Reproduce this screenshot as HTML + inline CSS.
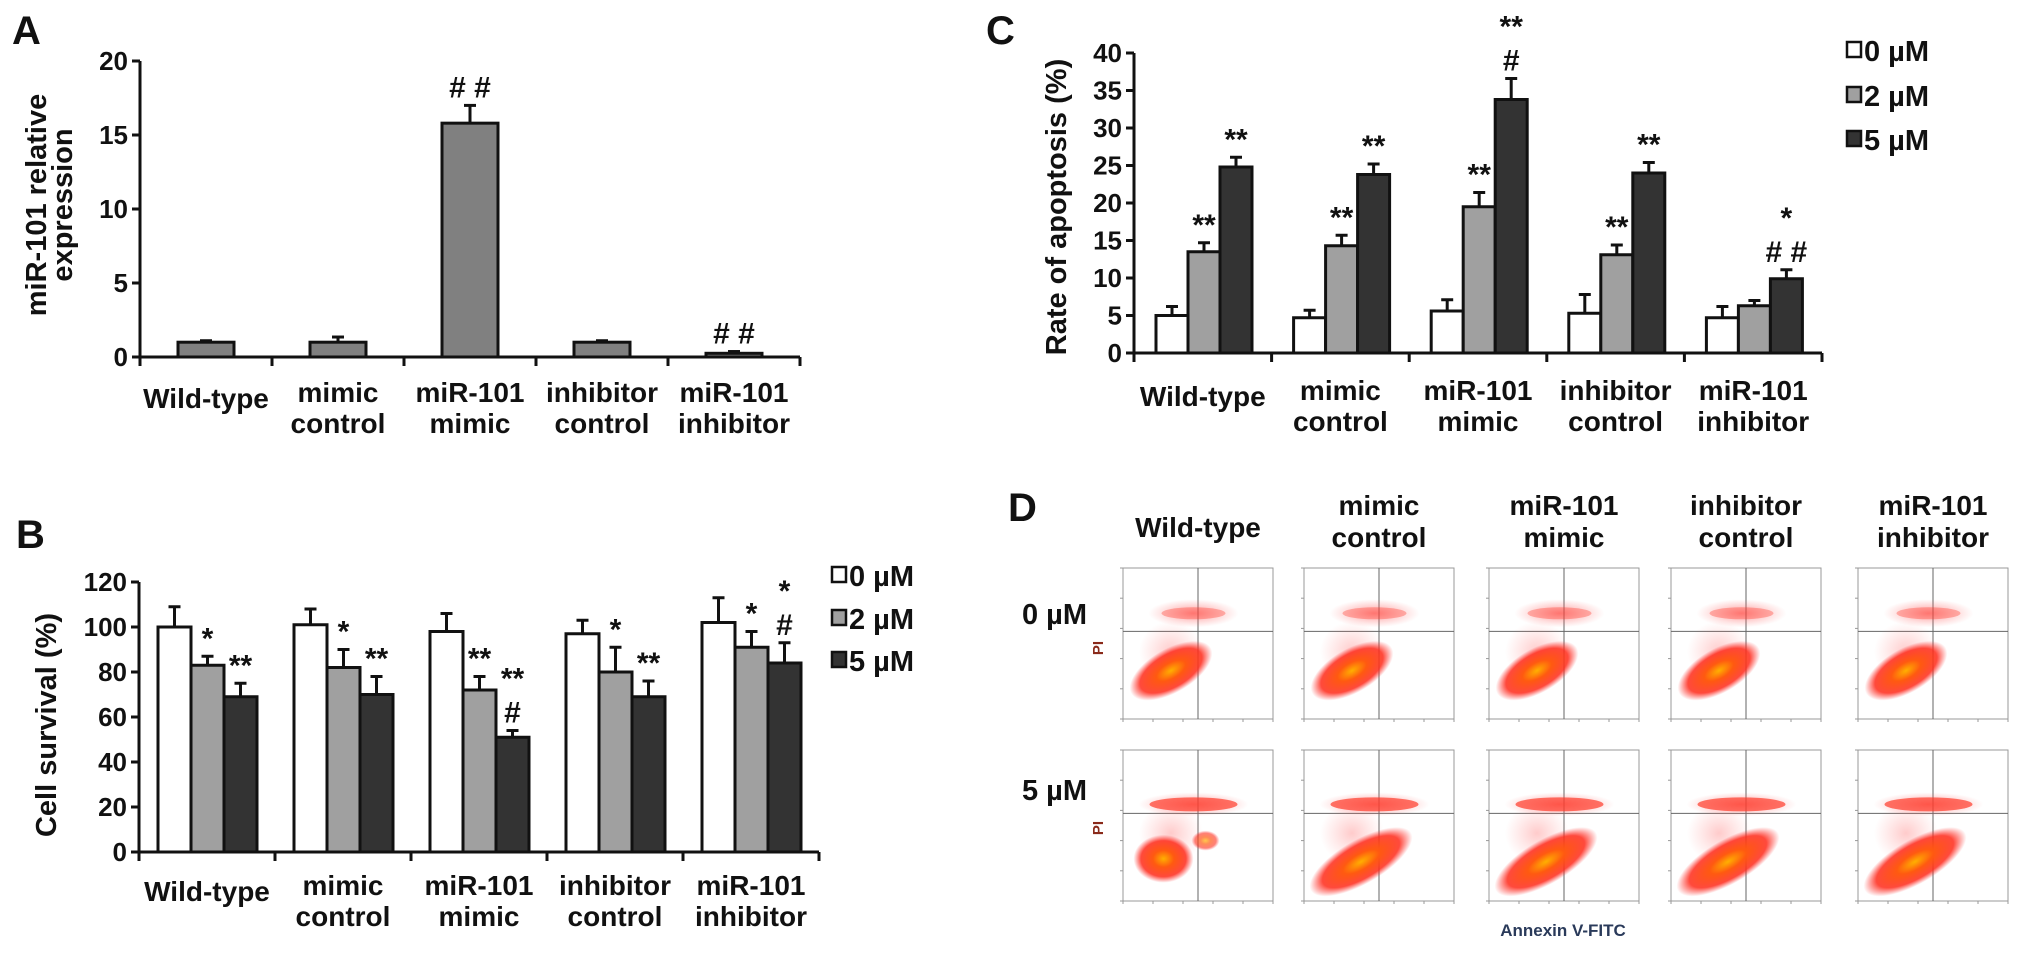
<!DOCTYPE html>
<html><head><meta charset="utf-8">
<style>
html,body{margin:0;padding:0;background:#fff;}
svg{display:block;}
text{font-family:"Liberation Sans Narrow","Liberation Sans",sans-serif;font-weight:bold;fill:#111;}
.wide{font-family:"Liberation Sans",sans-serif;}
</style></head>
<body>
<svg id="fig" width="2031" height="956" viewBox="0 0 2031 956" xmlns="http://www.w3.org/2000/svg">
<defs>
<radialGradient id="cl" cx="50%" cy="50%" r="50%">
<stop offset="0" stop-color="#ffb000"/><stop offset="0.35" stop-color="#ff5a10"/><stop offset="0.75" stop-color="#ff2a1a" stop-opacity="0.85"/><stop offset="1" stop-color="#ff3030" stop-opacity="0"/>
</radialGradient>
<radialGradient id="hz" cx="50%" cy="50%" r="50%">
<stop offset="0" stop-color="#ff4040" stop-opacity="0.55"/><stop offset="1" stop-color="#ff6060" stop-opacity="0"/>
</radialGradient>
</defs>
<g id="panelA">
<text class="wide" x="12" y="44" font-size="40">A</text>
<text class="wide" transform="translate(46,205) rotate(-90)" text-anchor="middle" font-size="29">miR-101 relative</text>
<text class="wide" transform="translate(72,205) rotate(-90)" text-anchor="middle" font-size="29">expression</text>
</g>
<g id="panelB">
<text class="wide" x="16" y="548" font-size="40">B</text>
<text class="wide" transform="translate(56,725) rotate(-90)" text-anchor="middle" font-size="29">Cell survival (%)</text>
</g>
<g id="panelC">
<text class="wide" x="986" y="44" font-size="40">C</text>
<text class="wide" transform="translate(1066,207) rotate(-90)" text-anchor="middle" font-size="29">Rate of apoptosis (%)</text>
</g>
<g id="panelD">
<text class="wide" x="1008" y="521" font-size="40">D</text>
<text x="1022" y="624" font-size="29">0 µM</text>
<text x="1022" y="800" font-size="29">5 µM</text>
<text transform="translate(1103,648) rotate(-90)" text-anchor="middle" font-size="15" style="fill:#8a2a1a">PI</text>
<text transform="translate(1103,828) rotate(-90)" text-anchor="middle" font-size="15" style="fill:#8a2a1a">PI</text>
<text x="1563" y="936" text-anchor="middle" font-size="17" style="fill:#2a3a5a">Annexin V-FITC</text>
</g>
</svg>
<script>
const NS="http://www.w3.org/2000/svg";
const svg=document.getElementById('fig');
// Panel A data
const catsA1=["Wild-type","mimic","miR-101","inhibitor","miR-101"];
const catsA2=["","control","mimic","control","inhibitor"];
const valsA=[1.0,1.0,15.8,1.0,0.25];
const errsA=[0.1,0.35,1.2,0.1,0.12];
const annA=["","","# #","","# #"];
const ticksA=[0,5,10,15,20];
// Panel B data
const valsB0=[100,101,98,97,102];
const valsB2=[83,82,72,80,91];
const valsB5=[69,70,51,69,84];
const errsB0=[9,7,8,6,11];
const errsB2=[4,8,6,11,7];
const errsB5=[6,8,3,7,9];
const annB2=["*","*","**","*","*"];
const annB5=["**","**","**\n#","**","*\n#"];
const ticksB=[0,20,40,60,80,100,120];
// Panel C data
const valsC0=[5.0,4.7,5.6,5.3,4.7];
const valsC2=[13.5,14.3,19.5,13.1,6.3];
const valsC5=[24.8,23.8,33.8,24.0,9.9];
const errsC0=[1.2,1.0,1.5,2.5,1.5];
const errsC2=[1.2,1.4,1.9,1.3,0.7];
const errsC5=[1.3,1.4,2.8,1.4,1.2];
const annC2=["**","**","**","**",""];
const annC5=["**","**","**\n#","**","*\n# #"];
const ticksC=[0,5,10,15,20,25,30,35,40];
const legendLabels=["0 µM","2 µM","5 µM"];
const headD1=["Wild-type","mimic","miR-101","inhibitor","miR-101"];
const headD2=["","control","mimic","control","inhibitor"];

function el(tag,attrs,parent){const e=document.createElementNS(NS,tag);for(const k in attrs)e.setAttribute(k,attrs[k]);(parent||svg).appendChild(e);return e;}
function txt(str,attrs,parent){const e=el('text',attrs,parent);e.textContent=str;return e;}

function axes(cfg,id){
  const g=el('g',{});
  
  
  const yTop=cfg.y(cfg.ticks[cfg.ticks.length-1]);
  el('line',{x1:cfg.x0,y1:yTop,x2:cfg.x0,y2:cfg.y(0),stroke:'#111','stroke-width':3},g);
  el('line',{x1:cfg.x0,y1:cfg.y(0),x2:cfg.x0+cfg.gw*cfg.n,y2:cfg.y(0),stroke:'#111','stroke-width':3},g);
  cfg.ticks.forEach(t=>{
    el('line',{x1:cfg.x0-8,y1:cfg.y(t),x2:cfg.x0,y2:cfg.y(t),stroke:'#111','stroke-width':3},g);
    const tl=txt(String(t),{x:cfg.x0-12,y:cfg.y(t)+9,'text-anchor':'end','font-size':26},g);
    
    
  });
  for(let i=0;i<=cfg.n;i++){
    el('line',{x1:cfg.x0+i*cfg.gw,y1:cfg.y(0),x2:cfg.x0+i*cfg.gw,y2:cfg.y(0)+9,stroke:'#111','stroke-width':3},g);
  }
  for(let i=0;i<cfg.n;i++){
    const cx=cfg.x0+(i+0.5)*cfg.gw;
    const a=txt(cfg.c1[i],{x:cx,y:cfg.c2[i]?cfg.labY:cfg.labY+6,'text-anchor':'middle','font-size':28},g);
    
    
    if(cfg.c2[i]){const b=txt(cfg.c2[i],{x:cx,y:cfg.labY+31,'text-anchor':'middle','font-size':28},g);
      
      }
  }
}
function drawSeries(cfg,vals,errs,ann,fill,off,bw,name){
  const g=el('g',{});
  
  
  vals.forEach((v,i)=>{
    const x=cfg.x0+i*cfg.gw+off, top=cfg.y(v), cx=x+bw/2, et=cfg.y(v+errs[i]);
    el('line',{x1:cx,y1:top,x2:cx,y2:et,stroke:'#111','stroke-width':3},g);
    el('line',{x1:cx-6,y1:et,x2:cx+6,y2:et,stroke:'#111','stroke-width':3},g);
    const r=el('rect',{x:x,y:top,width:bw,height:cfg.y(0)-top,fill:fill,stroke:'#111','stroke-width':3},g);
    
    
    if(ann[i]){
      const lines=ann[i].split('\n').reverse();
      lines.forEach((s,k)=>{
        const t=txt(s,{x:cx,y:et-8-k*34,'text-anchor':'middle','font-size':30},g);
        
        
      });
    }
  });
}
function legend(x,ys){
  const fills=['#fff','#a0a0a0','#333'];
  legendLabels.forEach((l,i)=>{
    const g=el('g',{});
    
    
    el('rect',{x:x,y:ys[i]-8,width:14,height:15,fill:fills[i],stroke:'#111','stroke-width':2.5},g);
    txt(l,{x:x+17,y:ys[i]+11,'font-size':29},g);
  });
}
// Panel A
const cA={x0:140,gw:132,n:5,ticks:ticksA,y:v=>357-v*14.8,c1:catsA1,c2:catsA2,labY:402};
axes(cA,'panel-a');
drawSeries(cA,valsA,errsA,annA,'#808080',38,56,'expression');
// Panel B
const cB={x0:139,gw:136,n:5,ticks:ticksB,y:v=>852-v*2.25,c1:catsA1,c2:catsA2,labY:895};
axes(cB,'panel-b');
drawSeries(cB,valsB0,errsB0,["","","","",""],'#fff',19,33,'survival-0um');
drawSeries(cB,valsB2,errsB2,annB2,'#a0a0a0',52,33,'survival-2um');
drawSeries(cB,valsB5,errsB5,annB5,'#333',85,33,'survival-5um');
legend(832,[575,618,660]);
// Panel C
const cC={x0:1134,gw:137.6,n:5,ticks:ticksC,y:v=>353-v*7.5,c1:catsA1,c2:catsA2,labY:400};
axes(cC,'panel-c');
drawSeries(cC,valsC0,errsC0,["","","","",""],'#fff',22,32,'apoptosis-0um');
drawSeries(cC,valsC2,errsC2,annC2,'#a0a0a0',54,32,'apoptosis-2um');
drawSeries(cC,valsC5,errsC5,annC5,'#333',86,32,'apoptosis-5um');
legend(1847,[50,95,139]);
// Panel D headers
const dLefts=[1123,1304,1489,1671,1858];
headD1.forEach((h,i)=>{
  const cx=dLefts[i]+75;
  const a=txt(h,{x:cx,y:headD2[i]?515:537,'text-anchor':'middle','font-size':28});
  
  
  if(headD2[i]){const b=txt(headD2[i],{x:cx,y:547,'text-anchor':'middle','font-size':28});
    
    }
});
// flow cytometry plots (decorative clusters)
const rowTops=[568,750];
rowTops.forEach((top,r)=>{
  dLefts.forEach((left,c)=>{
    const g=el('g',{});
    
    
    const w=150,h=151;
    el('rect',{x:left,y:top,width:w,height:h,fill:'#fff',stroke:'#999','stroke-width':1},g);
    el('line',{x1:left+w*0.5,y1:top,x2:left+w*0.5,y2:top+h,stroke:'#666','stroke-width':1},g);
    el('line',{x1:left,y1:top+h*0.42,x2:left+w,y2:top+h*0.42,stroke:'#666','stroke-width':1},g);
    const by=top+h*(r===0?0.3:0.36);
    el('ellipse',{cx:left+w*0.47,cy:by,rx:r===0?45:55,ry:r===0?14:12,fill:'url(#hz)'},g);
    el('ellipse',{cx:left+w*0.47,cy:by,rx:r===0?32:44,ry:r===0?6:7,fill:'#ff3a2a',opacity:r===0?0.35:0.7},g);
    el('ellipse',{cx:left+w*0.32,cy:top+h*0.55,rx:32,ry:30,fill:'url(#hz)',opacity:0.5},g);
    if(r===1&&c===0){
      el('ellipse',{cx:left+w*0.27,cy:top+h*0.72,rx:30,ry:24,fill:'url(#cl)'},g);
      el('ellipse',{cx:left+w*0.55,cy:top+h*0.6,rx:14,ry:10,fill:'url(#cl)',opacity:0.7},g);
    } else {
      const len=r===0?46:58, cxr=r===0?0.32:0.38, cyr=r===0?0.68:0.74;
      el('ellipse',{cx:left+w*cxr,cy:top+h*cyr,rx:len,ry:22,fill:'url(#cl)',transform:`rotate(-30 ${left+w*cxr} ${top+h*cyr})`},g);
    }
    for(let k=0;k<=5;k++){
      el('line',{x1:left+k*w/5,y1:top+h,x2:left+k*w/5,y2:top+h+3,stroke:'#999','stroke-width':1},g);
      el('line',{x1:left-3,y1:top+k*h/5,x2:left,y2:top+k*h/5,stroke:'#999','stroke-width':1},g);
    }
  });
});
</script>
</body></html>
